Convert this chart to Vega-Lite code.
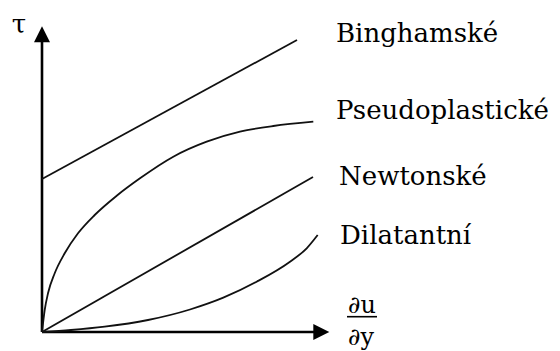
{
  "$schema": "https://vega.github.io/schema/vega-lite/v6.json",
  "width": 560,
  "height": 351,
  "padding": 0,
  "autosize": {"type": "fit", "contains": "padding"},
  "background": "white",
  "config": {"view": {"stroke": null}},
  "datasets": {
    "axes": [
      {"axis": "x", "x1": 0, "y1": 0, "x2": 27.4, "y2": 0},
      {"axis": "y", "x1": 0, "y1": 0, "x2": 0, "y2": 29.2}
    ],
    "arrowX": [{"x": 27.93, "y": 0}],
    "arrowY": [{"x": 0, "y": 29.78}],
    "curves": [
      {"curve": "Binghamské", "i": 0, "x": 0, "y": 15.3},
      {"curve": "Binghamské", "i": 1, "x": 25.5, "y": 29.2},
      {"curve": "Newtonské", "i": 0, "x": 0, "y": 0},
      {"curve": "Newtonské", "i": 1, "x": 27.1, "y": 15.5},
      {"curve": "Pseudoplastické", "i": 0, "x": 0, "y": 0},
      {"curve": "Pseudoplastické", "i": 1, "x": 0.27, "y": 2.2},
      {"curve": "Pseudoplastické", "i": 2, "x": 0.6, "y": 3.87},
      {"curve": "Pseudoplastické", "i": 3, "x": 1.27, "y": 5.87},
      {"curve": "Pseudoplastické", "i": 4, "x": 2.27, "y": 7.87},
      {"curve": "Pseudoplastické", "i": 5, "x": 3.6, "y": 9.87},
      {"curve": "Pseudoplastické", "i": 6, "x": 5.27, "y": 11.7},
      {"curve": "Pseudoplastické", "i": 7, "x": 7.5, "y": 13.65},
      {"curve": "Pseudoplastické", "i": 8, "x": 9.8, "y": 15.37},
      {"curve": "Pseudoplastické", "i": 9, "x": 13.13, "y": 17.53},
      {"curve": "Pseudoplastické", "i": 10, "x": 16.47, "y": 19.03},
      {"curve": "Pseudoplastické", "i": 11, "x": 19.8, "y": 20.03},
      {"curve": "Pseudoplastické", "i": 12, "x": 23.13, "y": 20.6},
      {"curve": "Pseudoplastické", "i": 13, "x": 27.13, "y": 21.03},
      {"curve": "Dilatantní", "i": 0, "x": 0, "y": 0},
      {"curve": "Dilatantní", "i": 1, "x": 2.9, "y": 0.2},
      {"curve": "Dilatantní", "i": 2, "x": 6.27, "y": 0.53},
      {"curve": "Dilatantní", "i": 3, "x": 10.6, "y": 1.2},
      {"curve": "Dilatantní", "i": 4, "x": 14.8, "y": 2.25},
      {"curve": "Dilatantní", "i": 5, "x": 18.13, "y": 3.43},
      {"curve": "Dilatantní", "i": 6, "x": 21.47, "y": 5.03},
      {"curve": "Dilatantní", "i": 7, "x": 24.8, "y": 7.03},
      {"curve": "Dilatantní", "i": 8, "x": 26.47, "y": 8.37},
      {"curve": "Dilatantní", "i": 9, "x": 27.57, "y": 9.7}
    ],
    "labels": [
      {"text": "Binghamské", "x": 29.4, "y": 29.0},
      {"text": "Pseudoplastické", "x": 29.4, "y": 21.3},
      {"text": "Newtonské", "x": 29.7, "y": 14.7},
      {"text": "Dilatantní", "x": 29.8, "y": 8.8}
    ],
    "tau": [{"text": "τ", "x": -3.03, "y": 29.9}],
    "deriv": [
      {"text": "∂u", "x": 30.6, "y": 1.9},
      {"text": "∂y", "x": 30.6, "y": -1.3}
    ],
    "bar": [{"x1": 30.5, "x2": 33.5, "y": 1.53}]
  },
  "layer": [
    {
      "data": {"name": "axes"},
      "mark": {"type": "rule", "color": "black", "strokeWidth": 2.6},
      "encoding": {
        "x": {"field": "x1", "type": "quantitative", "axis": null, "scale": {"domain": [-4.2, 51.8], "nice": false, "zero": false}},
        "y": {"field": "y1", "type": "quantitative", "axis": null, "scale": {"domain": [-1.9, 33.2], "nice": false, "zero": false}},
        "x2": {"field": "x2"},
        "y2": {"field": "y2"}
      }
    },
    {
      "data": {"name": "arrowX"},
      "mark": {"type": "point", "shape": "M1,0L-1,-1L-1,1Z", "size": 256, "filled": true, "color": "black", "opacity": 1},
      "encoding": {
        "x": {"field": "x", "type": "quantitative"},
        "y": {"field": "y", "type": "quantitative"}
      }
    },
    {
      "data": {"name": "arrowY"},
      "mark": {"type": "point", "shape": "M0,-1L-1,1L1,1Z", "size": 256, "filled": true, "color": "black", "opacity": 1},
      "encoding": {
        "x": {"field": "x", "type": "quantitative"},
        "y": {"field": "y", "type": "quantitative"}
      }
    },
    {
      "data": {"name": "curves"},
      "mark": {"type": "line", "interpolate": "monotone", "color": "#111111", "strokeWidth": 1.8},
      "encoding": {
        "x": {"field": "x", "type": "quantitative"},
        "y": {"field": "y", "type": "quantitative"},
        "detail": {"field": "curve"},
        "order": {"field": "i"}
      }
    },
    {
      "data": {"name": "labels"},
      "mark": {"type": "text", "font": "DejaVu Serif", "fontSize": 26, "align": "left", "baseline": "alphabetic", "color": "black"},
      "encoding": {
        "x": {"field": "x", "type": "quantitative"},
        "y": {"field": "y", "type": "quantitative"},
        "text": {"field": "text"}
      }
    },
    {
      "data": {"name": "tau"},
      "mark": {"type": "text", "font": "DejaVu Serif", "fontSize": 26, "align": "left", "baseline": "alphabetic", "color": "black"},
      "encoding": {
        "x": {"field": "x", "type": "quantitative"},
        "y": {"field": "y", "type": "quantitative"},
        "text": {"field": "text"}
      }
    },
    {
      "data": {"name": "deriv"},
      "mark": {"type": "text", "font": "DejaVu Serif", "fontSize": 24, "align": "left", "baseline": "alphabetic", "color": "black"},
      "encoding": {
        "x": {"field": "x", "type": "quantitative"},
        "y": {"field": "y", "type": "quantitative"},
        "text": {"field": "text"}
      }
    },
    {
      "data": {"name": "bar"},
      "mark": {"type": "rule", "color": "black", "strokeWidth": 1.6},
      "encoding": {
        "x": {"field": "x1", "type": "quantitative"},
        "x2": {"field": "x2"},
        "y": {"field": "y", "type": "quantitative"}
      }
    }
  ]
}
